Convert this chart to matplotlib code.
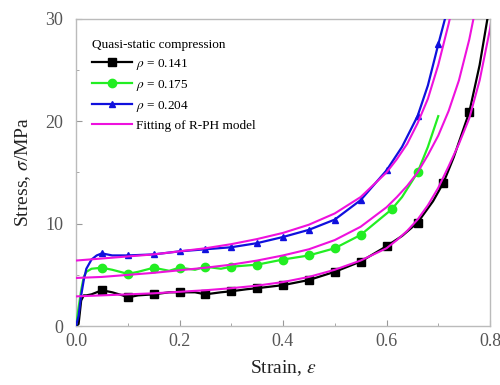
import matplotlib
matplotlib.use("Agg")
import matplotlib.pyplot as plt
from matplotlib.ticker import MultipleLocator, FormatStrFormatter

plt.rcParams['font.family'] = ['Liberation Serif', 'DejaVu Serif']
plt.rcParams['mathtext.fontset'] = 'stix'

# ---- data ----
eps_141 = [0, 0.005, 0.01, 0.015, 0.02, 0.03, 0.05, 0.07, 0.09, 0.1, 0.12, 0.15, 0.18, 0.2,
           0.23, 0.25, 0.28, 0.3, 0.33, 0.35, 0.4, 0.45, 0.5, 0.55, 0.6, 0.63, 0.66, 0.69,
           0.71, 0.73, 0.76, 0.78, 0.795]
sig_141 = [0, 0.2, 2.5, 3.0, 3.0, 3.1, 3.5, 3.3, 3.0, 2.8, 3.0, 3.1, 3.3, 3.3,
           3.3, 3.1, 3.3, 3.4, 3.6, 3.7, 4.0, 4.5, 5.3, 6.3, 7.8, 8.8, 10.1, 12.2,
           14.0, 16.5, 20.9, 25.5, 30.0]
mk_141 = [0.05, 0.1, 0.15, 0.2, 0.25, 0.3, 0.35, 0.4, 0.45, 0.5, 0.55, 0.6, 0.66, 0.71, 0.76]

eps_175 = [0, 0.005, 0.01, 0.015, 0.02, 0.03, 0.05, 0.07, 0.1, 0.12, 0.15, 0.18, 0.2, 0.23,
           0.25, 0.28, 0.3, 0.35, 0.4, 0.45, 0.5, 0.55, 0.61, 0.63, 0.66, 0.68, 0.70]
sig_175 = [0, 1.8, 3.5, 4.8, 5.3, 5.6, 5.7, 5.5, 5.1, 5.3, 5.7, 5.4, 5.7, 5.5,
           5.8, 5.6, 5.8, 6.0, 6.5, 6.9, 7.6, 8.9, 11.4, 12.6, 15.0, 17.5, 20.5]
mk_175 = [0.05, 0.1, 0.15, 0.2, 0.25, 0.3, 0.35, 0.4, 0.45, 0.5, 0.55, 0.61, 0.66]

eps_204 = [0, 0.005, 0.01, 0.015, 0.02, 0.03, 0.04, 0.05, 0.07, 0.1, 0.15, 0.2, 0.25, 0.3,
           0.35, 0.4, 0.45, 0.5, 0.55, 0.6, 0.63, 0.66, 0.68, 0.70, 0.713]
sig_204 = [0, 1.0, 3.0, 4.5, 5.6, 6.5, 6.9, 7.1, 6.9, 6.9, 7.0, 7.3, 7.5, 7.7,
           8.1, 8.7, 9.4, 10.4, 12.3, 15.2, 17.5, 20.5, 23.5, 27.5, 30.0]
mk_204 = [0.05, 0.1, 0.15, 0.2, 0.25, 0.3, 0.35, 0.4, 0.45, 0.5, 0.55, 0.6, 0.66, 0.70]

fit_eps = [0, 0.05, 0.1, 0.15, 0.2, 0.25, 0.3, 0.35, 0.4, 0.45, 0.5, 0.55, 0.6, 0.62,
           0.64, 0.66, 0.68, 0.70, 0.72, 0.74, 0.76, 0.78, 0.80, 0.82]
fit_141 = [2.9, 3.0, 3.1, 3.2, 3.35, 3.5, 3.7, 3.95, 4.3, 4.8, 5.5, 6.4, 7.6, 8.4,
           9.3, 10.4, 11.8, 13.5, 15.6, 17.8, 20.3, 24.0, 29.0, 36.0]
fit_175 = [4.7, 4.8, 5.0, 5.2, 5.45, 5.7, 6.0, 6.4, 6.9, 7.5, 8.4, 9.7, 11.6, 12.6,
           13.7, 15.0, 16.7, 18.6, 21.0, 24.0, 28.0, 33.0, 38.0, 44.0]
fit_204 = [6.4, 6.6, 6.8, 7.0, 7.3, 7.6, 8.0, 8.5, 9.1, 9.9, 11.0, 12.6, 15.0, 16.3,
           17.8, 19.8, 22.2, 25.5, 29.5, 34.0, 39.0, 45.0, 52.0, 60.0]

labels = [r'$\rho$ = 0.141', r'$\rho$ = 0.175', r'$\rho$ = 0.204', 'Fitting of R-PH model']
legend_title = 'Quasi-static compression'

fig = plt.figure(figsize=(5.0, 3.85), dpi=100)
ax = fig.add_axes([0.152, 0.153, 0.828, 0.798])

def idx(eps, mk):
    return [eps.index(m) for m in mk]

l1, = ax.plot(eps_141, sig_141, color='black', lw=1.6, marker='s', ms=6,
              markevery=idx(eps_141, mk_141), zorder=3)
l2, = ax.plot(eps_175, sig_175, color='#22ee22', lw=1.6, marker='o', ms=6,
              markevery=idx(eps_175, mk_175), zorder=3)
l3, = ax.plot(eps_204, sig_204, color='#1010dd', lw=1.6, marker='^', ms=4.5,
              markevery=idx(eps_204, mk_204), zorder=3)
for f in (fit_141, fit_175, fit_204):
    l4, = ax.plot(fit_eps, f, color='#ee11dd', lw=1.5, zorder=4)

ax.set_xlim(0, 0.8)
ax.set_ylim(0, 30)
ax.xaxis.set_major_locator(MultipleLocator(0.2))
ax.xaxis.set_minor_locator(MultipleLocator(0.1))
ax.yaxis.set_major_locator(MultipleLocator(10))
ax.yaxis.set_minor_locator(MultipleLocator(5))
ax.xaxis.set_major_formatter(FormatStrFormatter('%.1f'))
ax.tick_params(which='both', direction='in', colors='#999999', labelcolor='#555555',
               labelsize=13)
ax.tick_params(axis='x', which='major', length=4, pad=5)
ax.tick_params(axis='y', which='major', length=4, pad=9)
ax.tick_params(which='minor', length=2.5)
for s in ax.spines.values():
    s.set_color('#bbbbbb')
    s.set_linewidth(1.0)

ax.set_xlabel(r'Strain, $\varepsilon$', fontsize=14, color='#222222', labelpad=6)
ax.set_ylabel(r'Stress, $\sigma$/MPa', fontsize=14, color='#222222', labelpad=9)

leg = ax.legend([l1, l2, l3, l4], labels, title=legend_title, loc='upper left',
                bbox_to_anchor=(0.02, 0.96), frameon=False, fontsize=9.5,
                title_fontsize=9.5, handlelength=3.0, handletextpad=0.3,
                labelspacing=0.45, borderaxespad=0.2)
leg._legend_box.align = 'left'

fig.savefig('out.png', dpi=100)
